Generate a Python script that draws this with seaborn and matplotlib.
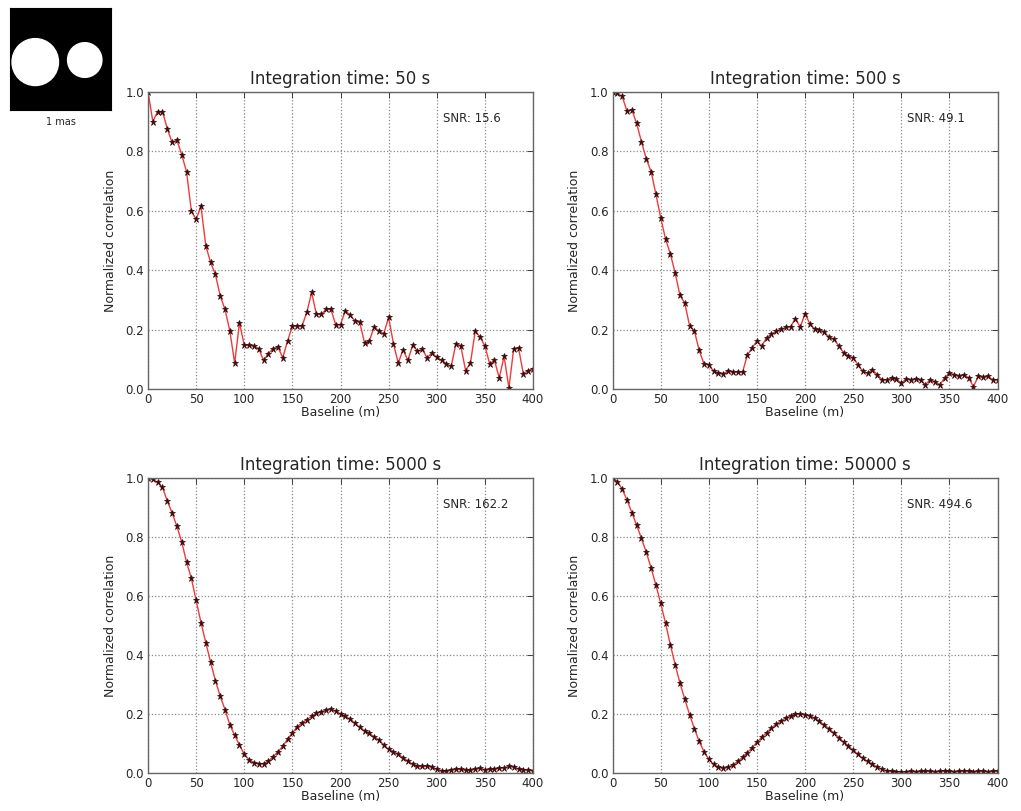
import numpy as np
import pandas as pd
import matplotlib
matplotlib.use('Agg')
import matplotlib.pyplot as plt
from matplotlib.patches import Circle
import seaborn as sns

# 基线 (m)
baseline = list(range(0, 405, 5))

# 各积分时间下读出的归一化相关值
corr_50 = [1.000, 0.900, 0.934, 0.934, 0.876, 0.830, 0.838, 0.788, 0.732, 0.599,
           0.571, 0.616, 0.482, 0.426, 0.386, 0.313, 0.268, 0.195, 0.087, 0.223,
           0.147, 0.147, 0.144, 0.136, 0.096, 0.119, 0.136, 0.141, 0.105, 0.162,
           0.212, 0.212, 0.212, 0.258, 0.325, 0.251, 0.251, 0.268, 0.268, 0.217,
           0.217, 0.263, 0.249, 0.229, 0.224, 0.155, 0.162, 0.209, 0.195, 0.186,
           0.241, 0.153, 0.087, 0.132, 0.096, 0.147, 0.128, 0.133, 0.105, 0.121,
           0.107, 0.096, 0.085, 0.076, 0.153, 0.145, 0.062, 0.087, 0.195, 0.175,
           0.145, 0.085, 0.096, 0.037, 0.110, 0.003, 0.136, 0.138, 0.051, 0.062,
           0.068]
corr_500 = [1.000, 0.995, 0.985, 0.935, 0.940, 0.894, 0.832, 0.775, 0.732, 0.656,
            0.576, 0.505, 0.455, 0.391, 0.315, 0.289, 0.213, 0.195, 0.130, 0.084,
            0.082, 0.059, 0.053, 0.050, 0.061, 0.056, 0.057, 0.056, 0.114, 0.139,
            0.161, 0.144, 0.173, 0.184, 0.195, 0.201, 0.207, 0.210, 0.237, 0.208,
            0.254, 0.219, 0.202, 0.199, 0.191, 0.174, 0.168, 0.145, 0.122, 0.111,
            0.105, 0.082, 0.059, 0.054, 0.065, 0.048, 0.031, 0.031, 0.037, 0.033,
            0.019, 0.033, 0.031, 0.033, 0.029, 0.014, 0.031, 0.025, 0.014, 0.037,
            0.054, 0.048, 0.042, 0.048, 0.037, 0.008, 0.042, 0.039, 0.042, 0.031,
            0.031]
corr_5000 = [1.000, 0.995, 0.985, 0.968, 0.922, 0.882, 0.836, 0.783, 0.715, 0.660,
             0.585, 0.510, 0.442, 0.376, 0.313, 0.260, 0.215, 0.163, 0.128, 0.095,
             0.063, 0.045, 0.035, 0.031, 0.032, 0.040, 0.055, 0.072, 0.090, 0.115,
             0.135, 0.157, 0.170, 0.181, 0.192, 0.202, 0.208, 0.213, 0.216, 0.210,
             0.200, 0.192, 0.183, 0.168, 0.155, 0.143, 0.134, 0.122, 0.112, 0.095,
             0.080, 0.072, 0.064, 0.052, 0.040, 0.030, 0.022, 0.022, 0.023, 0.020,
             0.012, 0.008, 0.006, 0.010, 0.013, 0.012, 0.009, 0.010, 0.013, 0.016,
             0.011, 0.012, 0.013, 0.016, 0.018, 0.022, 0.020, 0.014, 0.011, 0.009,
             0.008]
corr_50000 = [1.000, 0.988, 0.962, 0.925, 0.883, 0.840, 0.795, 0.748, 0.695, 0.637,
              0.575, 0.508, 0.435, 0.367, 0.305, 0.250, 0.198, 0.150, 0.107, 0.072,
              0.046, 0.029, 0.019, 0.016, 0.019, 0.027, 0.039, 0.053, 0.069, 0.086,
              0.104, 0.121, 0.137, 0.152, 0.165, 0.177, 0.187, 0.194, 0.199, 0.200,
              0.198, 0.193, 0.185, 0.175, 0.163, 0.150, 0.135, 0.120, 0.105, 0.091,
              0.077, 0.063, 0.050, 0.039, 0.029, 0.020, 0.013, 0.008, 0.005, 0.004,
              0.004, 0.004, 0.005, 0.004, 0.005, 0.006, 0.005, 0.004, 0.005, 0.006,
              0.005, 0.004, 0.005, 0.006, 0.005, 0.004, 0.005, 0.005, 0.004, 0.006,
              0.005]

int_times = [50, 500, 5000, 50000]
snr_values = [15.6, 49.1, 162.2, 494.6]
series = [corr_50, corr_500, corr_5000, corr_50000]

# 双星模型示意图: 两个均匀圆盘
disk_centers = [(0.25, 0.47), (0.74, 0.49)]
disk_radii = [0.23, 0.17]

sns.set_style('white')
plt.rcParams['font.family'] = ['DejaVu Sans']
plt.rcParams['xtick.direction'] = 'in'
plt.rcParams['ytick.direction'] = 'in'

fig = plt.figure(figsize=(10.21, 8.11), dpi=100)

# 子图位置 (left, bottom, width, height)
positions = [[0.145, 0.5204, 0.377, 0.3662],
             [0.600, 0.5204, 0.377, 0.3662],
             [0.145, 0.0469, 0.377, 0.3637],
             [0.600, 0.0469, 0.377, 0.3637]]

for pos, t, snr, vals in zip(positions, int_times, snr_values, series):
    ax = fig.add_axes(pos)
    df = pd.DataFrame({'baseline': baseline, 'corr': vals})
    sns.lineplot(data=df, x='baseline', y='corr', ax=ax, color='#f03a3a', lw=1,
                 marker='*', markersize=5, markerfacecolor='#3a0c0c',
                 markeredgecolor='#3a0c0c', markeredgewidth=0.5)
    ax.set_xlim(0, 400)
    ax.set_ylim(0, 1.0)
    ax.set_xticks(range(0, 401, 50))
    ax.set_yticks(np.arange(0, 1.01, 0.2))
    ax.set_yticklabels(['0.0', '0.2', '0.4', '0.6', '0.8', '1.0'])
    ax.grid(True, linestyle=':', color='#888888', lw=0.9)
    ax.tick_params(labelsize=8.5, top=True, right=True, length=4, width=0.6, pad=3)
    for s in ax.spines.values():
        s.set_color('#666666')
        s.set_linewidth(1)
    ax.set_title(f'Integration time: {t} s', fontsize=12, pad=6)
    ax.set_xlabel('Baseline (m)', fontsize=9, labelpad=0)
    ax.set_ylabel('Normalized correlation', fontsize=9, labelpad=6)
    ax.text(0.765, 0.91, f'SNR: {snr}', transform=ax.transAxes, fontsize=8.5,
            va='center', ha='left')

# 左上角模型示意图
ax_img = fig.add_axes([10 / 1021, 1 - 110 / 811, 101 / 1021, 102 / 811])
ax_img.set_facecolor('black')
ax_img.set_xlim(0, 1)
ax_img.set_ylim(0, 1)
for c, r in zip(disk_centers, disk_radii):
    ax_img.add_patch(Circle(c, r, color='white'))
ax_img.set_xticks([])
ax_img.set_yticks([])
for s in ax_img.spines.values():
    s.set_color('black')
ax_img.set_xlabel('1 mas', fontsize=7, labelpad=5)

fig.savefig('out.png', dpi=100)
